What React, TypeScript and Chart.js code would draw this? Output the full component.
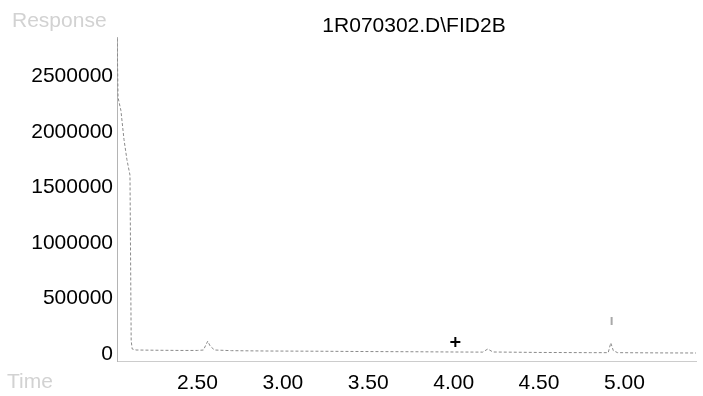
import { useEffect, useRef } from "react";
import { Chart, registerables } from "chart.js";

Chart.register(...registerables);

const chartTitle = "1R070302.D\\FID2B";
const yAxisName = "Response";
const xAxisName = "Time";

// retention time (min)
const times = [
  2.030, 2.035, 2.052, 2.070, 2.087, 2.105, 2.112, 2.118, 2.14, 2.25, 2.40, 2.50,
  2.535, 2.560, 2.575, 2.60, 2.70, 2.90, 3.20, 3.50, 3.80, 4.00, 4.17, 4.20, 4.23,
  4.50, 4.80, 4.905, 4.920, 4.935, 4.96, 5.20, 5.42,
];
// detector response
const responses = [
  2840000, 2310000, 2190000, 1930000, 1750000, 1610000, 120000, 45000, 36000, 34000, 32000, 32000,
  36000, 115000, 70000, 36000, 30000, 27000, 25000, 22000, 20000, 18000, 17000, 45000, 18000,
  14000, 12000, 12000, 100000, 30000, 12000, 10000, 9000,
];

const cursorTimes = [4.01];
const cursorResponses = [108000];

const markerTimes = [4.925, 4.925];
const markerResponses = [261000, 333000];

const xTickValues = [2.5, 3.0, 3.5, 4.0, 4.5, 5.0];
const yTickValues = [0, 500000, 1000000, 1500000, 2000000, 2500000];

const FONT = '"Liberation Sans", Arial, sans-serif';

const textPlugin = {
  id: "chromTexts",
  afterDraw(chart: any) {
    const ctx = chart.ctx;
    ctx.save();
    ctx.font = `21px ${FONT}`;
    ctx.textBaseline = "alphabetic";
    ctx.fillStyle = "#000";
    ctx.textAlign = "center";
    ctx.fillText(chartTitle, 414, 32);
    ctx.fillStyle = "#d2d2d2";
    ctx.textAlign = "left";
    ctx.fillText(yAxisName, 12, 27);
    ctx.fillText(xAxisName, 7, 388);
    ctx.restore();
  },
};

export default function App() {
  const ref = useRef<HTMLCanvasElement | null>(null);

  useEffect(() => {
    if (!ref.current) return;
    const chart = new Chart(ref.current, {
      type: "line",
      data: {
        datasets: [
          {
            label: "signal",
            data: times.map((t, i) => ({ x: t, y: responses[i] })),
            borderColor: "#8a8a8a",
            borderWidth: 1,
            borderDash: [3, 2],
            pointRadius: 0,
            tension: 0,
            fill: false,
          },
          {
            label: "marker",
            data: markerTimes.map((t, i) => ({ x: t, y: markerResponses[i] })),
            borderColor: "#a8a8a8",
            borderWidth: 2,
            pointRadius: 0,
            fill: false,
          },
          {
            label: "cursor",
            data: cursorTimes.map((t, i) => ({ x: t, y: cursorResponses[i] })),
            showLine: false,
            pointStyle: "cross",
            pointRadius: 5,
            pointBorderWidth: 2,
            pointBorderColor: "#000",
            borderColor: "#000",
          },
        ],
      },
      options: {
        responsive: false,
        animation: false,
        layout: { padding: { top: 37, right: 3, bottom: 0, left: 0 } },
        plugins: {
          legend: { display: false },
          tooltip: { enabled: false },
          title: { display: false },
        },
        scales: {
          x: {
            type: "linear",
            min: 2.029,
            max: 5.419,
            grid: { display: false, drawTicks: false },
            border: { display: true, color: "#cccccc", dash: [2, 4] },
            ticks: {
              color: "#000",
              font: { family: FONT, size: 21 },
              padding: 10,
              maxRotation: 0,
              autoSkip: false,
              callback: (v: any) => Number(v).toFixed(2),
            },
            afterBuildTicks: (s: any) => {
              s.ticks = xTickValues.map((v) => ({ value: v }));
            },
            afterFit: (s: any) => {
              s.height = 35;
            },
          },
          y: {
            type: "linear",
            min: -63000,
            max: 2853000,
            grid: { display: false, drawTicks: false },
            border: { display: true, color: "#b4b4b4", dash: [1, 3] },
            ticks: {
              color: "#000",
              font: { family: FONT, size: 21 },
              padding: 4,
              autoSkip: false,
              callback: (v: any) => String(v),
            },
            afterBuildTicks: (s: any) => {
              s.ticks = yTickValues.map((v) => ({ value: v }));
            },
            afterFit: (s: any) => {
              s.width = 117;
            },
          },
        },
      },
      plugins: [textPlugin],
    });
    return () => chart.destroy();
  }, []);

  return (
    <div style={{ position: "fixed", left: 0, top: 0, width: 703, height: 396, background: "#fff" }}>
      <canvas ref={ref} width={703} height={396} />
    </div>
  );
}
